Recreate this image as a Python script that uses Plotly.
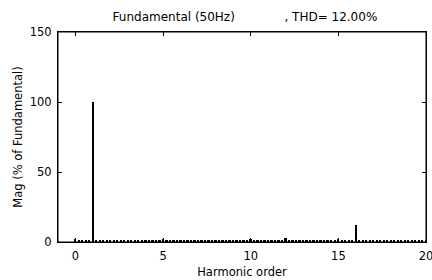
import plotly.graph_objects as go

# Harmonic order (resolution 0.2 harmonic = 10 Hz)
harmonic_order = [
    0.0, 0.2, 0.4, 0.6, 0.8, 1.0, 1.2, 1.4, 1.6, 1.8,
    2.0, 2.2, 2.4, 2.6, 2.8, 3.0, 3.2, 3.4, 3.6, 3.8,
    4.0, 4.2, 4.4, 4.6, 4.8, 5.0, 5.2, 5.4, 5.6, 5.8,
    6.0, 6.2, 6.4, 6.6, 6.8, 7.0, 7.2, 7.4, 7.6, 7.8,
    8.0, 8.2, 8.4, 8.6, 8.8, 9.0, 9.2, 9.4, 9.6, 9.8,
    10.0, 10.2, 10.4, 10.6, 10.8, 11.0, 11.2, 11.4, 11.6, 11.8,
    12.0, 12.2, 12.4, 12.6, 12.8, 13.0, 13.2, 13.4, 13.6, 13.8,
    14.0, 14.2, 14.4, 14.6, 14.8, 15.0, 15.2, 15.4, 15.6, 15.8,
    16.0, 16.2, 16.4, 16.6, 16.8, 17.0, 17.2, 17.4, 17.6, 17.8,
    18.0, 18.2, 18.4, 18.6, 18.8, 19.0, 19.2, 19.4, 19.6, 19.8,
    20.0,
]

# Magnitude (% of fundamental)
magnitude = [
    2.4, 1.0, 1.4, 1.1, 1.3, 100.0, 1.3, 1.1, 1.2, 1.0,
    1.1, 1.3, 1.0, 1.2, 1.3, 1.1, 1.0, 1.3, 1.2, 1.0,
    1.3, 1.1, 1.0, 1.2, 1.4, 2.2, 1.3, 1.0, 1.1, 1.3,
    1.0, 1.2, 1.3, 1.0, 1.1, 1.3, 1.2, 1.0, 1.3, 1.1,
    1.0, 1.2, 1.3, 1.1, 1.0, 1.1, 1.3, 1.0, 1.2, 1.4,
    2.4, 1.2, 1.0, 1.3, 1.1, 1.3, 1.2, 1.0, 1.3, 1.2,
    3.0, 1.3, 1.0, 1.2, 1.3, 1.1, 1.0, 1.2, 1.3, 1.0,
    1.1, 1.3, 1.0, 1.2, 1.4, 2.4, 1.2, 1.0, 1.3, 1.1,
    12.3, 1.2, 1.0, 1.3, 1.1, 1.0, 1.3, 1.2, 1.0, 1.1,
    1.3, 1.0, 1.2, 1.3, 1.0, 1.1, 1.3, 1.0, 1.2, 1.3,
    1.1,
]

x_ticks = [0, 5, 10, 15, 20]
y_ticks = [0, 50, 100, 150]

title_text = "Fundamental (50Hz)             , THD= 12.00%"

font_family = "DejaVu Sans, sans-serif"
label_size = 11.5

fig = go.Figure(
    go.Bar(
        x=harmonic_order,
        y=magnitude,
        width=0.1,
        marker=dict(color="black", line=dict(width=0)),
    )
)

axis_common = dict(
    showline=True,
    linecolor="black",
    linewidth=1,
    mirror="ticks",
    ticks="inside",
    ticklen=4,
    tickwidth=1,
    tickcolor="black",
    showgrid=False,
    zeroline=False,
    automargin=False,
    ticklabeloverflow="allow",
    tickfont=dict(family=font_family, size=label_size, color="black"),
)

fig.update_layout(
    width=432,
    height=280,
    margin=dict(l=58, r=6, t=32, b=38, autoexpand=False),
    paper_bgcolor="white",
    plot_bgcolor="white",
    showlegend=False,
    bargap=0,
    title=dict(
        text=title_text,
        x=0.567,
        xanchor="center",
        y=0.94,
        yanchor="middle",
        font=dict(family=font_family, size=12, color="black"),
    ),
    xaxis=dict(
        range=[-1, 20],
        tickvals=x_ticks,
        ticklabelstandoff=3,
        title=dict(text="Harmonic order", font=dict(family=font_family, size=label_size, color="black"), standoff=6),
        **axis_common,
    ),
    yaxis=dict(
        range=[0, 150],
        tickvals=y_ticks,
        ticklabelstandoff=3,
        title=dict(text="Mag (% of Fundamental)", font=dict(family=font_family, size=label_size, color="black"), standoff=4),
        **axis_common,
    ),
    shapes=[
        dict(type="rect", xref="paper", yref="paper", x0=0, x1=1, y0=0, y1=1,
             line=dict(color="black", width=1), fillcolor="rgba(0,0,0,0)", layer="above"),
    ],
)

fig.write_html(
    "out.html",
    config={"displayModeBar": False},
    post_script="document.body.style.margin='0';document.body.style.overflow='hidden';",
)
